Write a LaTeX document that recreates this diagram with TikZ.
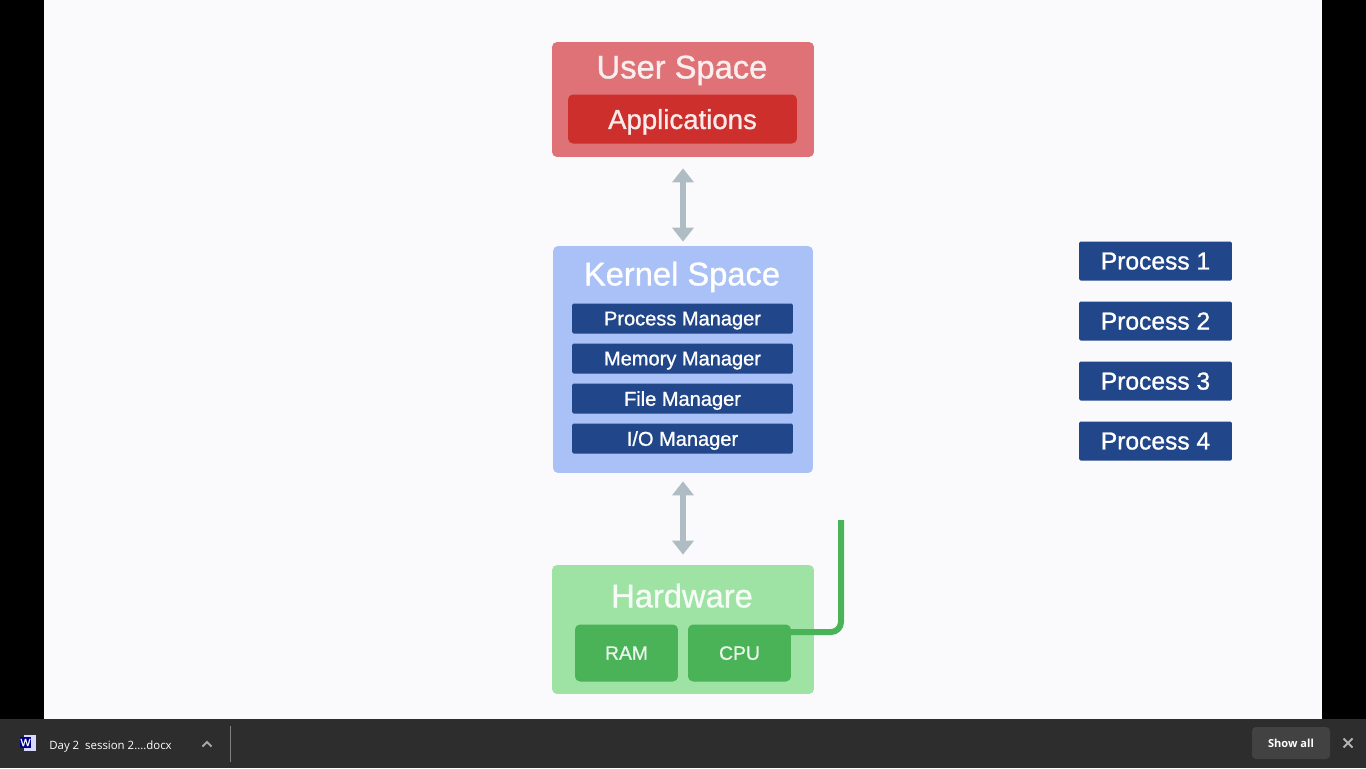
\documentclass[tikz,border=0pt]{standalone}
\usepackage{fontspec}
\setmainfont[FakeBold=1]{Liberation Sans}
\newfontfamily\barfont{Open Sans}
\usetikzlibrary{arrows.meta}

\definecolor{pagebg}{HTML}{FAFAFC}
\definecolor{barbg}{HTML}{2D2D2D}
\definecolor{userbg}{HTML}{DF7276}
\definecolor{appbg}{HTML}{CC2F2C}
\definecolor{kernelbg}{HTML}{A9C1F6}
\definecolor{managerbg}{HTML}{214689}
\definecolor{hardbg}{HTML}{9EE3A3}
\definecolor{chipbg}{HTML}{4BB357}
\definecolor{arrowgray}{HTML}{B0BCC3}

\tikzset{
	panel/.style={rounded corners=0.1cm, inner sep=0pt, text depth=0pt},
	title/.style={text=white, text depth=0pt, font=\fontsize{18.6}{22}\selectfont},
	manager/.style={fill=managerbg, text=white, rounded corners=0.03cm, text depth=0pt, minimum width=4.42cm, minimum height=0.6cm, inner sep=0pt, font=\fontsize{11.4}{13}\selectfont},
	process/.style={fill=managerbg, text=white, rounded corners=0.03cm, text depth=0pt, minimum width=3.06cm, minimum height=0.78cm, inner sep=0pt, font=\fontsize{14}{16}\selectfont},
	chip/.style={panel, fill=chipbg, text=white!88!chipbg, minimum width=2.06cm, minimum height=1.14cm, font=\fontsize{11}{13}\selectfont},
	link/.style={draw=arrowgray, line width=0.12cm, {Triangle[width=0.42cm,length=0.28cm]}-{Triangle[width=0.42cm,length=0.28cm]}},
}

\begin{document}
\begin{tikzpicture}[x=0.02cm, y=-0.02cm]
	\useasboundingbox (0,0) rectangle (1366,768);
	%background
	\fill[black] (0,0) rectangle (1366,768);
	\fill[pagebg] (44,0) rectangle (1322,719);
	\fill[barbg] (0,719) rectangle (1366,768);

	%user space
	\node[panel, fill=userbg, minimum width=5.24cm, minimum height=2.3cm] (user) at (683,99.5) {};
	\node[title, text=white!88!userbg] (usertitle) at (682,67) {User Space};
	\node[panel, fill=appbg, text=white!90!appbg, minimum width=4.58cm, minimum height=0.98cm, font=\fontsize{15.7}{18}\selectfont] (apps) at (682.5,119) {Applications};

	%kernel space
	\node[panel, fill=kernelbg, minimum width=5.2cm, minimum height=4.54cm] (kernel) at (683,359.5) {};
	\node[title] (kerneltitle) at (682,273.5) {Kernel Space};
	\node[manager] (procman) at (682.5,318.5) {Process Manager};
	\node[manager] (memman)  at (682.5,358.5) {Memory Manager};
	\node[manager] (fileman) at (682.5,398.5) {File Manager};
	\node[manager] (ioman)   at (682.5,438.5) {I/O Manager};

	%hardware
	\node[panel, fill=hardbg, minimum width=5.24cm, minimum height=2.58cm] (hard) at (683,629.5) {};
	\node[title, text=white!90!hardbg] (hardtitle) at (682,595.5) {Hardware};
	\node[chip] (ram) at (626.5,653) {RAM};
	\node[chip] (cpu) at (739.5,653) {CPU};

	%processes
	\node[process] (proc1) at (1155.5,261) {Process 1};
	\node[process] (proc2) at (1155.5,321) {Process 2};
	\node[process] (proc3) at (1155.5,381) {Process 3};
	\node[process] (proc4) at (1155.5,441) {Process 4};

	%arrows
	\draw[link, shorten <=0.22cm, shorten >=0.08cm] (user) -- (kernel);
	\draw[link, shorten <=0.16cm, shorten >=0.2cm] (kernel) -- (hard);
	\coordinate (cputap) at (790,632);
	\coordinate (wireend) at (841,520);
	\draw[chipbg, line width=0.12cm, rounded corners=0.2cm] (cputap) -| (wireend);

	%download bar
	\fill[white!85!blue] (24,735) rectangle (36,751);
	\fill[blue!55!black] (20,737) rectangle (31,748);
	\node[text=white, font=\fontsize{6}{7}\selectfont, inner sep=0pt] (wordicon) at (25.5,742.5) {W};
	\node[text=white, anchor=west, inner sep=0pt, font=\barfont\fontsize{6.5}{9}\selectfont] (filename) at (49,746.5) {Day 2\ \ session 2....docx};
	\draw[gray!70!white, line width=0.04cm] (202.5,746.5) -- (207,742) -- (211.5,746.5);
	\draw[gray, line width=0.02cm] (230.5,726) -- (230.5,762);
	\node[fill=white!10!barbg, text=white, rounded corners=0.08cm, minimum width=1.56cm, minimum height=0.64cm, inner sep=0pt, font=\barfont\bfseries\fontsize{6.3}{9}\selectfont] (showall) at (1291,743) {Show all};
	\draw[gray!60!white, line width=0.04cm] (1343.5,738.5) -- (1352.5,747.5);
	\draw[gray!60!white, line width=0.04cm] (1352.5,738.5) -- (1343.5,747.5);
\end{tikzpicture}
\end{document}
